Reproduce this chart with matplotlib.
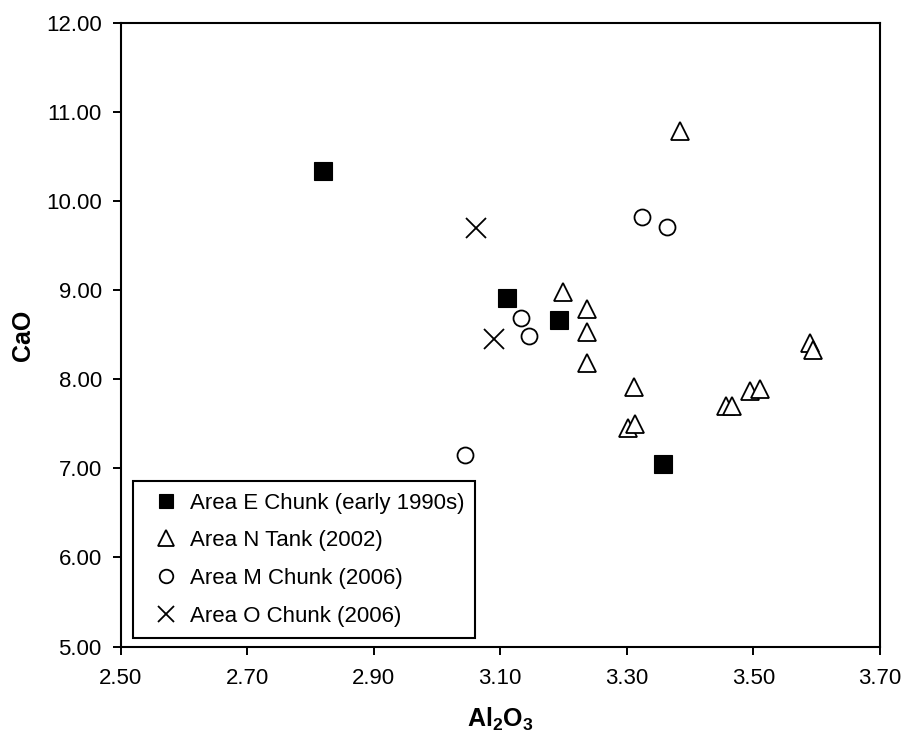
import matplotlib
matplotlib.use("Agg")
import matplotlib.pyplot as plt

# Data (Al2O3 vs CaO).
area_e_al2o3 = [2.820, 3.110, 3.192, 3.357]
area_e_cao = [10.34, 8.92, 8.67, 7.05]

area_n_al2o3 = [3.384, 3.199, 3.237, 3.237, 3.237, 3.311, 3.302, 3.313,
                3.457, 3.466, 3.495, 3.510, 3.589, 3.594]
area_n_cao = [10.79, 8.98, 8.79, 8.53, 8.19, 7.91, 7.45, 7.50,
              7.70, 7.70, 7.87, 7.89, 8.41, 8.33]

area_m_al2o3 = [3.045, 3.133, 3.145, 3.324, 3.364]
area_m_cao = [7.15, 8.69, 8.49, 9.82, 9.71]

area_o_al2o3 = [3.062, 3.090]
area_o_cao = [9.70, 8.45]

labels = ["Area E Chunk (early 1990s)", "Area N Tank (2002)",
          "Area M Chunk (2006)", "Area O Chunk (2006)"]

x_ticks = [2.50, 2.70, 2.90, 3.10, 3.30, 3.50, 3.70]
y_ticks = [5.00, 6.00, 7.00, 8.00, 9.00, 10.00, 11.00, 12.00]

plt.rcParams['font.family'] = ['Liberation Sans', 'DejaVu Sans']
plt.rcParams['mathtext.fontset'] = 'custom'
plt.rcParams['mathtext.rm'] = 'Liberation Sans'
plt.rcParams['mathtext.bf'] = 'Liberation Sans:bold'

fig = plt.figure(figsize=(9.04, 7.33), dpi=100)
ax = fig.add_axes([0.1333, 0.1180, 0.8402, 0.8502])

edge = 1.3
ax.plot(area_e_al2o3, area_e_cao, 's', ms=12.5, mfc='black', mec='black',
        mew=0.8, label=labels[0], linestyle='none')
ax.plot(area_n_al2o3, area_n_cao, '^', ms=13.5, mfc='white', mec='black',
        mew=edge, label=labels[1], linestyle='none')
ax.plot(area_m_al2o3, area_m_cao, 'o', ms=11.5, mfc='white', mec='black',
        mew=edge, label=labels[2], linestyle='none')
ax.plot(area_o_al2o3, area_o_cao, 'x', ms=14, mec='black',
        mew=edge, label=labels[3], linestyle='none')

ax.set_xlim(2.50, 3.70)
ax.set_ylim(5.00, 12.00)
ax.set_xticks(x_ticks)
ax.set_yticks(y_ticks)
ax.set_xticklabels(["%.2f" % v for v in x_ticks])
ax.set_yticklabels(["%.2f" % v for v in y_ticks])
ax.tick_params(direction='out', length=6, width=1.4, labelsize=16)
ax.tick_params(axis='x', pad=9.5)
ax.tick_params(axis='y', pad=7.5)

for spine in ax.spines.values():
    spine.set_linewidth(1.5)

ax.set_xlabel(r'$\mathbf{Al_2O_3}$', fontsize=18, labelpad=12)
ax.set_ylabel('CaO', fontsize=18, fontweight='bold', labelpad=8)

leg = ax.legend(loc='lower left', bbox_to_anchor=(0.0158, 0.0141),
                borderaxespad=0, fontsize=16, numpoints=1, markerscale=0.85,
                fancybox=False, framealpha=1, edgecolor='black',
                borderpad=0.5, handlelength=1.97, handletextpad=0.1,
                labelspacing=0.75)
leg.get_frame().set_linewidth(1.5)

fig.savefig("out.png", dpi=100)
